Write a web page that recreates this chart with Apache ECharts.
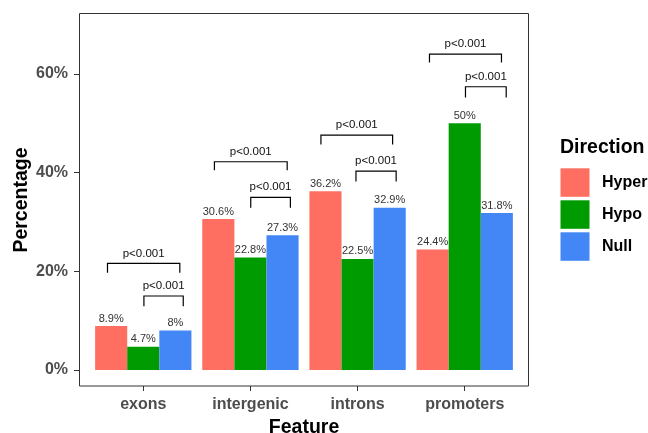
<!DOCTYPE html>
<html>
<head>
<meta charset="utf-8">
<script src="https://cdn.jsdelivr.net/npm/echarts@6/dist/echarts.min.js"></script>
<style>html,body{margin:0;padding:0;background:#fff;}#c{width:648px;height:433px;}</style>
</head>
<body>
<div id="c"></div>
<script>
const categories = ['exons', 'intergenic', 'introns', 'promoters'];
const seriesNames = ['Hyper', 'Hypo', 'Null'];
const hyperValues = [8.9, 30.6, 36.2, 24.4];
const hypoValues = [4.7, 22.8, 22.5, 50];
const nullValues = [8, 27.3, 32.9, 31.8];
const yTickValues = [0, 20, 40, 60];

// significance brackets: category index, left/right offset (in category units), top, left foot, right foot
const bracketCategory = [0, 0, 1, 1, 2, 2, 3, 3];
const bracketLeft = [-0.334, 0.006, -0.336, 0.003, -0.342, -0.015, -0.329, 0.007];
const bracketRight = [0.341, 0.373, 0.343, 0.373, 0.327, 0.36, 0.343, 0.387];
const bracketTop = [21.6, 15.0, 42.2, 35.0, 47.6, 40.3, 64.0, 57.4];
const bracketFootL = [19.7, 12.9, 40.5, 32.9, 45.7, 38.2, 62.3, 55.2];
const bracketFootR = [19.7, 12.9, 40.5, 32.9, 45.7, 38.2, 62.3, 55.2];
const bracketLabels = ['p<0.001', 'p<0.001', 'p<0.001', 'p<0.001', 'p<0.001', 'p<0.001', 'p<0.001', 'p<0.001'];

const colors = ['#FF6F61', '#009B00', '#4287F5'];
const FF = "'Liberation Sans', Arial, Helvetica, sans-serif";

const bracketData = bracketCategory.map((c, i) => [c, bracketLeft[i], bracketRight[i], bracketTop[i], bracketFootL[i], bracketFootR[i], i]);

const chart = echarts.init(document.getElementById('c'), null, {renderer: 'canvas'});

function barSeries(name, data, color) {
  return {
    name: name,
    type: 'bar',
    data: data,
    barWidth: 32.1,
    barGap: '0%',
    itemStyle: {color: color},
    label: {
      show: true, position: 'top', distance: 2,
      formatter: p => p.value + '%',
      fontSize: 11, fontFamily: FF, color: '#333'
    },
    emphasis: {disabled: true}
  };
}

const option = {
  backgroundColor: '#fff',
  animation: false,
  color: colors,
  title: {
    text: 'Direction', left: 560, top: 138, padding: 0,
    textStyle: {fontSize: 19.5, fontWeight: 'bold', fontFamily: FF, color: '#000'}
  },
  legend: {
    orient: 'vertical', left: 560.5, top: 168.3, padding: 0,
    itemWidth: 29, itemHeight: 28.5, itemGap: 3.5, icon: 'rect',
    data: seriesNames,
    textStyle: {fontSize: 16, fontWeight: 'bold', fontFamily: FF, color: '#000', padding: [0, 0, 0, 7.5]},
    selectedMode: false
  },
  grid: {left: 89.7, width: 428.6, top: -24.8, height: 394.8, containLabel: false, outerBoundsMode: 'none'},
  xAxis: {
    type: 'category', data: categories, offset: 16,
    axisLine: {show: false, onZero: false},
    axisTick: {show: true, alignWithLabel: true, length: 5, lineStyle: {color: '#333'}},
    axisLabel: {fontSize: 16, fontWeight: 'bold', fontFamily: FF, color: '#4D4D4D', margin: 11},
    name: 'Feature', nameLocation: 'middle', nameGap: 31,
    nameTextStyle: {fontSize: 19.5, fontWeight: 'bold', fontFamily: FF, color: '#000'}
  },
  yAxis: {
    type: 'value', min: 0, max: 80, interval: 20, offset: 10.7,
    axisLine: {show: false, onZero: false},
    splitLine: {show: false},
    axisTick: {show: true, length: 5, lineStyle: {color: '#333'}},
    axisLabel: {
      fontSize: 16, fontWeight: 'bold', fontFamily: FF, color: '#4D4D4D', margin: 11,
      showMaxLabel: false,
      formatter: v => (yTickValues.indexOf(v) >= 0 ? v + '%' : '')
    }
  },
  graphic: [
    {type: 'rect', shape: {x: 79.5, y: 13.5, width: 449, height: 372.5},
     style: {fill: null, stroke: '#333', lineWidth: 1}, z: 100, silent: true},
    {type: 'text', x: 22, y: 200, rotation: Math.PI / 2,
     style: {text: 'Percentage', fontSize: 19.5, fontWeight: 'bold', fontFamily: FF, fill: '#000',
             align: 'center', verticalAlign: 'middle'}, silent: true}
  ],
  series: [
    barSeries(seriesNames[0], hyperValues, colors[0]),
    barSeries(seriesNames[1], hypoValues, colors[1]),
    barSeries(seriesNames[2], nullValues, colors[2]),
    {
      type: 'custom',
      data: bracketData,
      encode: {x: 0, y: 3},
      silent: true,
      z: 10,
      renderItem: function (params, api) {
        const cat = api.value(0);
        const top = api.coord([cat, api.value(3)]);
        const bw = api.size([1, 0])[0];
        const x1 = top[0] + api.value(1) * bw;
        const x2 = top[0] + api.value(2) * bw;
        const yT = top[1];
        const yL = api.coord([cat, api.value(4)])[1];
        const yR = api.coord([cat, api.value(5)])[1];
        return {
          type: 'group',
          children: [
            {type: 'polyline', shape: {points: [[x1, yL], [x1, yT], [x2, yT], [x2, yR]]},
             style: {stroke: '#000', lineWidth: 1.2, fill: null}},
            {type: 'text', x: (x1 + x2) / 2, y: yT - 4,
             style: {text: bracketLabels[api.value(6)], fontSize: 11.5, fontFamily: FF, fill: '#111',
                     align: 'center', verticalAlign: 'bottom'}}
          ]
        };
      }
    }
  ]
};
chart.setOption(option);
</script>
</body>
</html>
